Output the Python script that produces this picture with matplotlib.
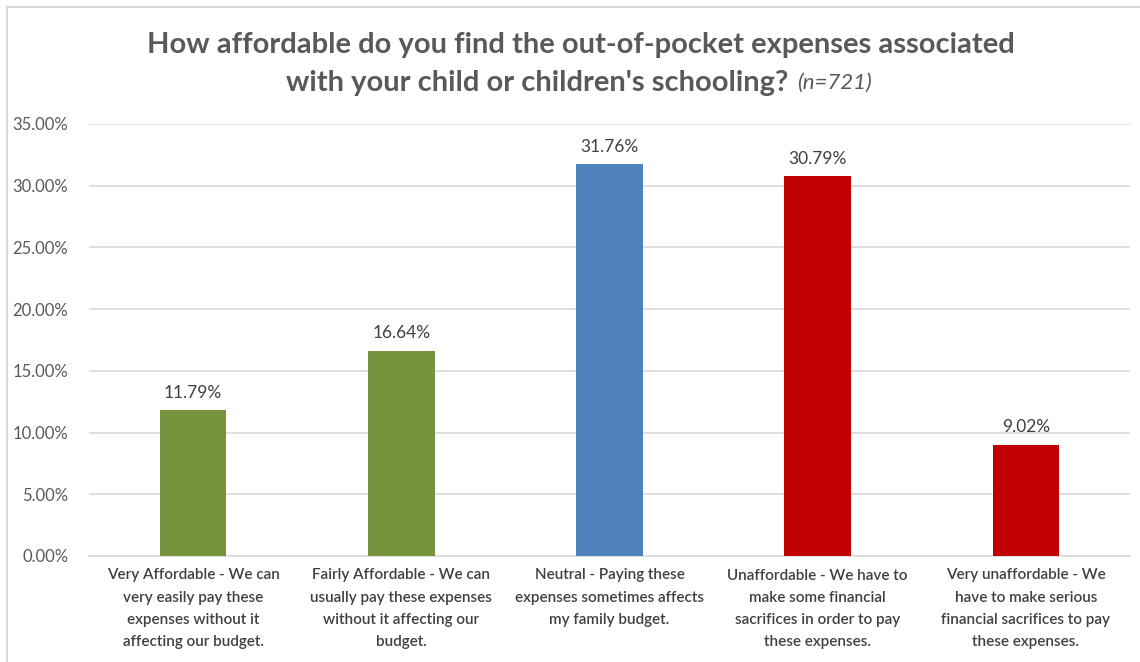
import matplotlib.pyplot as plt
from matplotlib.patches import Rectangle
from matplotlib.ticker import FuncFormatter

plt.rcParams['font.family'] = ['Lato', 'DejaVu Sans']

# data
categories = ['Very Affordable - We can\nvery easily pay these\nexpenses without it\naffecting our budget.',
              'Fairly Affordable - We can\nusually pay these expenses\nwithout it affecting our\nbudget.',
              'Neutral - Paying these\nexpenses sometimes affects\nmy family budget.',
              'Unaffordable - We have to\nmake some financial\nsacrifices in order to pay\nthese expenses.',
              'Very unaffordable - We\nhave to make serious\nfinancial sacrifices to pay\nthese expenses.']
values = [11.79, 16.64, 31.76, 30.79, 9.02]
colors = ['#77933C', '#77933C', '#4F81BD', '#C00000', '#C00000']

W, H = 1140, 662
fig = plt.figure(figsize=(W/100, H/100), dpi=100)

# chart frame
fig.patches.append(Rectangle((7/W, -0.1), 1.2, (H-7)/H + 0.1, transform=fig.transFigure,
                             fill=False, ec='#D9D9D9', lw=1.5))

ax = fig.add_axes([89/W, 1-556/H, (1130-89)/W, (556-124)/H])
x = range(len(values))
ax.bar(x, values, width=0.32, color=colors, zorder=3)
for i, v in enumerate(values):
    ax.text(i, v + 0.75, '%.2f%%' % v, ha='center', va='bottom', fontsize=12.5, color='#404040')

ax.set_xlim(-0.5, 4.5)
ax.set_ylim(0, 35)
ax.set_yticks([0, 5, 10, 15, 20, 25, 30, 35])
ax.yaxis.set_major_formatter(FuncFormatter(lambda v, p: '%.2f%%' % v))
ax.grid(axis='y', color='#D9D9D9', lw=1.2, zorder=0)
for s in ['top', 'right', 'left']:
    ax.spines[s].set_visible(False)
ax.spines['bottom'].set_color('#D9D9D9')
ax.spines['bottom'].set_linewidth(1.2)
ax.tick_params(axis='both', length=0, colors='#595959', labelsize=12)
ax.tick_params(axis='y', pad=15)
ax.set_xticks(list(x))
ax.set_xticklabels(categories, fontsize=11, color='#404040', linespacing=1.75,
                   fontweight='semibold')
ax.tick_params(axis='x', pad=9)

# title
fig.text(581/W, 1-45/H, 'How affordable do you find the out-of-pocket expenses associated',
         ha='center', va='center', fontsize=21, fontweight='bold', color='#595959')
fig.text(788/W, 1-83/H, "with your child or children's schooling?",
         ha='right', va='center', fontsize=21, fontweight='bold', color='#595959')
fig.text(797/W, 1-83/H, '(n=721)', ha='left', va='center', fontsize=16,
         style='italic', color='#595959')

fig.savefig('out.png', dpi=100)
